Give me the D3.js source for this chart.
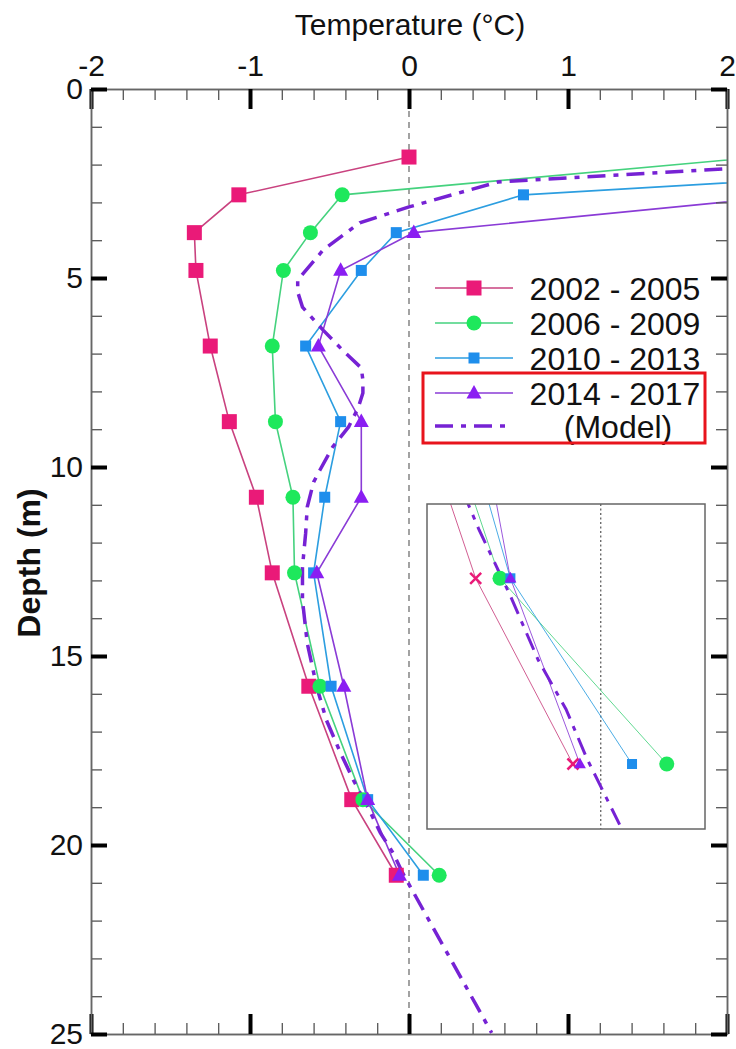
<!DOCTYPE html>
<html>
<head>
<meta charset="utf-8">
<script src="https://cdn.jsdelivr.net/npm/d3@7"></script>
<style>
  html, body { margin: 0; padding: 0; background: #fff; }
  svg { display: block; font-family: "Liberation Sans", Arial, sans-serif; }
</style>
</head>
<body>
<svg id="chart" width="736" height="1049"></svg>
<script>
// ---------------- data ----------------
const depths = [1.8, 2.8, 3.8, 4.8, 6.8, 8.8, 10.8, 12.8, 15.8, 18.8, 20.8];
const seriesNames = ["2002 - 2005", "2006 - 2009", "2010 - 2013", "2014 - 2017"];
const t2002 = [0.0, -1.07, -1.35, -1.34, -1.25, -1.13, -0.96, -0.86, -0.63, -0.36, -0.08];
const t2006 = [2.21, -0.42, -0.62, -0.79, -0.86, -0.84, -0.73, -0.72, -0.56, -0.29, 0.19];
const t2010 = [4.75, 0.72, -0.08, -0.30, -0.65, -0.43, -0.53, -0.60, -0.49, -0.26, 0.09];
const t2014 = [null, 2.45, 0.03, -0.43, -0.57, -0.30, -0.30, -0.58, -0.41, -0.26, -0.06];
const modelName = "(Model)";
const modelDepth = [2.0, 2.46, 3.12, 3.54, 4.26, 5.05, 5.37, 5.77, 6.38, 6.90, 7.38, 7.70, 8.04, 8.44, 8.94, 9.47, 10.08, 10.40, 11.06, 11.75, 12.65, 13.52, 14.66, 15.82, 16.69, 17.57, 18.28, 18.99, 19.68, 20.21, 20.74, 24.97];
const modelTemp  = [2.46, 0.56, 0.0, -0.31, -0.54, -0.70, -0.70, -0.67, -0.54, -0.42, -0.30, -0.29, -0.29, -0.32, -0.38, -0.48, -0.56, -0.60, -0.64, -0.65, -0.67, -0.67, -0.64, -0.58, -0.52, -0.43, -0.35, -0.26, -0.18, -0.10, -0.04, 0.52];
const xMajorTicks = [-2, -1, 0, 1, 2];
const yMajorTicks = [0, 5, 10, 15, 20, 25];
const xMinorTicks = d3.range(-2, 2.001, 0.2).map(v => +v.toFixed(1)).filter(v => !xMajorTicks.includes(v));
const yMinorTicks = d3.range(0, 26, 1).filter(v => v % 5 !== 0);
const xTitle = "Temperature (\u00B0C)";
const yTitle = "Depth (m)";

// ---------------- setup ----------------
const svg = d3.select("#chart");
const x = d3.scaleLinear().domain([-2, 2]).range([91, 727]);
const y = d3.scaleLinear().domain([0, 25]).range([89, 1034]);

const styles = [
  {name: seriesNames[0], vals: t2002, marker: "square", fill: "#EA1A78", line: "#C9427F", size: 15},
  {name: seriesNames[1], vals: t2006, marker: "circle", fill: "#1EE85C", line: "#45D27E", size: 15},
  {name: seriesNames[2], vals: t2010, marker: "square", fill: "#1E8EEC", line: "#2C9EE0", size: 11},
  {name: seriesNames[3], vals: t2014, marker: "triangle", fill: "#8A1EF2", line: "#8A3BD6", size: 15}
];
const modelColor = "#7622D4";

function drawMarker(g, type, cx, cy, size, fill) {
  if (type === "square") {
    g.append("rect").attr("x", cx - size / 2).attr("y", cy - size / 2)
      .attr("width", size).attr("height", size).attr("fill", fill);
  } else if (type === "circle") {
    g.append("circle").attr("cx", cx).attr("cy", cy).attr("r", size / 2).attr("fill", fill);
  } else if (type === "triangle") {
    const h = size * 0.9;
    g.append("path").attr("d", `M${cx},${cy - h * 0.6}L${cx + size / 2},${cy + h * 0.4}L${cx - size / 2},${cy + h * 0.4}Z`).attr("fill", fill);
  } else if (type === "x") {
    const s = size / 2;
    g.append("path").attr("d", `M${cx - s},${cy - s}L${cx + s},${cy + s}M${cx - s},${cy + s}L${cx + s},${cy - s}`)
      .attr("stroke", fill).attr("stroke-width", 2.5).attr("fill", "none");
  }
}

// clip
const defs = svg.append("defs");
defs.append("clipPath").attr("id", "plotClip").append("rect")
  .attr("x", x(-2)).attr("y", y(0)).attr("width", x(2) - x(-2)).attr("height", y(25) - y(0));

// zero line
svg.append("line").attr("x1", x(0)).attr("x2", x(0)).attr("y1", y(0)).attr("y2", y(25))
  .attr("stroke", "#666").attr("stroke-width", 1.2).attr("stroke-dasharray", "6,5");

// data
const plot = svg.append("g").attr("clip-path", "url(#plotClip)");
styles.forEach(s => {
  const pts = depths.map((d, i) => [s.vals[i], d]).filter(p => p[0] !== null);
  plot.append("path").datum(pts)
    .attr("d", d3.line().x(p => x(p[0])).y(p => y(p[1])))
    .attr("fill", "none").attr("stroke", s.line).attr("stroke-width", 1.6);
});
const modelPts = modelDepth.map((d, i) => [modelTemp[i], d]);
plot.append("path").datum(modelPts)
  .attr("d", d3.line().x(p => x(p[0])).y(p => y(p[1])))
  .attr("fill", "none").attr("stroke", modelColor).attr("stroke-width", 3.5)
  .attr("stroke-dasharray", "18,8,5,8");
styles.forEach(s => {
  const mg = plot.append("g");
  depths.forEach((d, i) => {
    if (s.vals[i] === null) return;
    drawMarker(mg, s.marker, x(s.vals[i]), y(d), s.size, s.fill);
  });
});

// axes
function styleAxis(g, major) {
  g.select(".domain").attr("stroke", "#666").attr("stroke-width", 1.5);
  g.selectAll(".tick line").attr("stroke", major ? "#000" : "#555").attr("stroke-width", major ? 4 : 1.3);
  g.selectAll("text").attr("font-size", 30).attr("fill", "#111").attr("font-family", "Liberation Sans, Arial, sans-serif");
}
const fmt = d => String(d);
svg.append("g").attr("transform", `translate(0,${y(0)})`)
  .call(d3.axisTop(x).tickValues(xMinorTicks).tickSize(-11).tickSizeOuter(0).tickFormat(""))
  .call(g => styleAxis(g, false));
svg.append("g").attr("transform", `translate(0,${y(0)})`)
  .call(d3.axisTop(x).tickValues(xMajorTicks).tickSize(-20).tickSizeOuter(0).tickPadding(13).tickFormat(fmt))
  .call(g => styleAxis(g, true));
svg.append("g").attr("transform", `translate(0,${y(25)})`)
  .call(d3.axisBottom(x).tickValues(xMinorTicks).tickSize(-11).tickSizeOuter(0).tickFormat(""))
  .call(g => styleAxis(g, false));
svg.append("g").attr("transform", `translate(0,${y(25)})`)
  .call(d3.axisBottom(x).tickValues(xMajorTicks).tickSize(-20).tickSizeOuter(0).tickFormat(""))
  .call(g => styleAxis(g, true));
svg.append("g").attr("transform", `translate(${x(-2)},0)`)
  .call(d3.axisLeft(y).tickValues(yMinorTicks).tickSize(-11).tickSizeOuter(0).tickFormat(""))
  .call(g => styleAxis(g, false));
svg.append("g").attr("transform", `translate(${x(-2)},0)`)
  .call(d3.axisLeft(y).tickValues(yMajorTicks).tickSize(-16).tickSizeOuter(0).tickPadding(8).tickFormat(fmt))
  .call(g => styleAxis(g, true));
svg.append("g").attr("transform", `translate(${x(2)},0)`)
  .call(d3.axisRight(y).tickValues(yMinorTicks).tickSize(-11).tickSizeOuter(0).tickFormat(""))
  .call(g => styleAxis(g, false));
svg.append("g").attr("transform", `translate(${x(2)},0)`)
  .call(d3.axisRight(y).tickValues(yMajorTicks).tickSize(-16).tickSizeOuter(0).tickFormat(""))
  .call(g => styleAxis(g, true));

// titles
svg.append("text").attr("x", 410).attr("y", 35).attr("text-anchor", "middle")
  .attr("font-size", 30).attr("fill", "#111").text(xTitle);
svg.append("text").attr("transform", "translate(40,563) rotate(-90)").attr("text-anchor", "middle")
  .attr("font-size", 32).attr("font-weight", "bold").attr("fill", "#111").text(yTitle);

// legend
const legY = [288, 323, 358, 393, 426];
const leg = svg.append("g");
styles.forEach((s, i) => {
  leg.append("line").attr("x1", 435).attr("x2", 513).attr("y1", legY[i]).attr("y2", legY[i])
    .attr("stroke", s.line).attr("stroke-width", 1.6);
  drawMarker(leg, s.marker, 474, legY[i], s.size, s.fill);
  leg.append("text").attr("x", 615).attr("y", legY[i]).attr("dy", "0.36em").attr("text-anchor", "middle")
    .attr("font-size", 32).attr("fill", "#111").text(s.name);
});
leg.append("line").attr("x1", 435).attr("x2", 513).attr("y1", legY[4]).attr("y2", legY[4])
  .attr("stroke", modelColor).attr("stroke-width", 3.5).attr("stroke-dasharray", "18,8,5,8");
leg.append("text").attr("x", 618).attr("y", legY[4]).attr("dy", "0.36em").attr("text-anchor", "middle")
  .attr("font-size", 32).attr("fill", "#111").text(modelName);
leg.append("rect").attr("x", 423).attr("y", 373).attr("width", 282).attr("height", 70)
  .attr("fill", "none").attr("stroke", "#E8141C").attr("stroke-width", 3);

// inset (magnified view of the 18-21.5 m part)
const ix = d3.scaleLinear().domain([-0.5, 0.3]).range([427, 705]);
const iy = d3.scaleLinear().domain([18.0, 21.5]).range([504, 829]);
defs.append("clipPath").attr("id", "insetClip").append("rect")
  .attr("x", 427).attr("y", 504).attr("width", 278).attr("height", 325);
svg.append("rect").attr("x", 427).attr("y", 504).attr("width", 278).attr("height", 325)
  .attr("fill", "#fff");
const inset = svg.append("g").attr("clip-path", "url(#insetClip)");
inset.append("line").attr("x1", ix(0)).attr("x2", ix(0)).attr("y1", iy(18)).attr("y2", iy(21.5))
  .attr("stroke", "#555").attr("stroke-width", 1.2).attr("stroke-dasharray", "2,2.5");
const insetMarkers = ["x", "circle", "square", "triangle"];
const insetSizes = [11, 15, 10, 12];
styles.forEach(s => {
  const pts = depths.map((d, i) => [s.vals[i], d]).filter(p => p[0] !== null);
  inset.append("path").datum(pts)
    .attr("d", d3.line().x(p => ix(p[0])).y(p => iy(p[1])))
    .attr("fill", "none").attr("stroke", s.line).attr("stroke-width", 1).attr("opacity", 0.85);
});
inset.append("path").datum(modelPts)
  .attr("d", d3.line().x(p => ix(p[0])).y(p => iy(p[1])))
  .attr("fill", "none").attr("stroke", modelColor).attr("stroke-width", 3)
  .attr("stroke-dasharray", "18,8,5,8");
styles.forEach((s, k) => {
  const mg = inset.append("g");
  depths.forEach((d, i) => {
    if (s.vals[i] === null || d < 18) return;
    drawMarker(mg, insetMarkers[k], ix(s.vals[i]), iy(d), insetSizes[k], s.fill);
  });
});
svg.append("rect").attr("x", 427).attr("y", 504).attr("width", 278).attr("height", 325)
  .attr("fill", "none").attr("stroke", "#666").attr("stroke-width", 1.5);
</script>
</body>
</html>
